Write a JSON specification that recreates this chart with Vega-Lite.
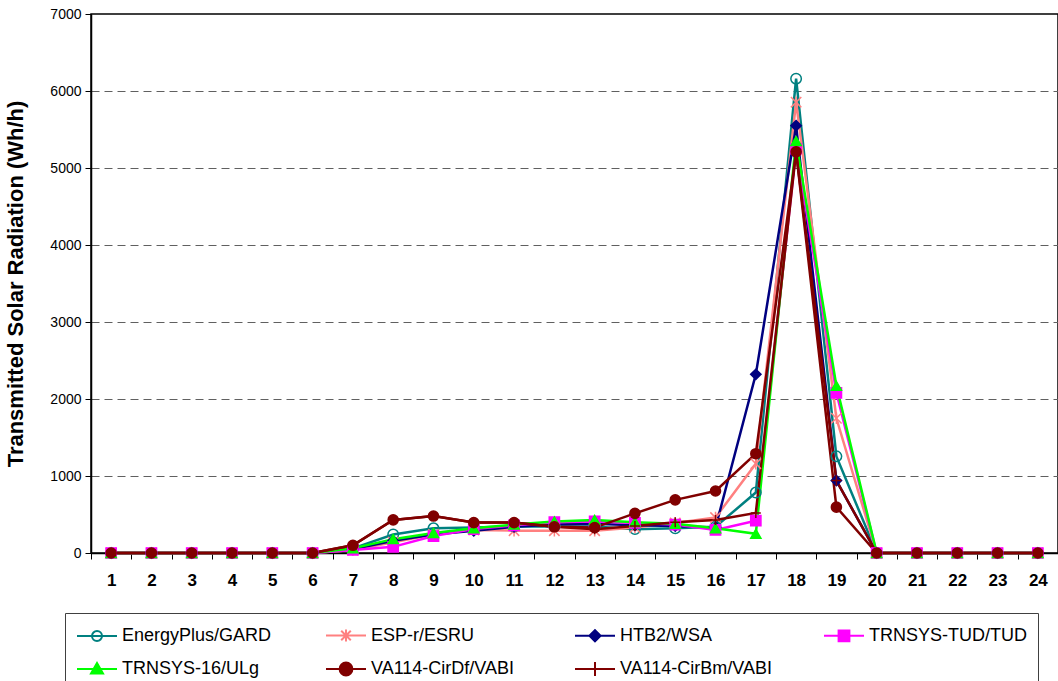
{
"$schema": "https://vega.github.io/schema/vega-lite/v6.json",
"width": 967, "height": 539,
"autosize": "none",
"padding": {"left": 91, "top": 14, "right": 0, "bottom": 128},
"background": "white",
"config": {"font": "Liberation Sans", "view": {"stroke": "black", "strokeWidth": 1.5}},
"data": {"values": [
{"series":"EnergyPlus/GARD","hour":1,"value":0},{"series":"EnergyPlus/GARD","hour":2,"value":0},{"series":"EnergyPlus/GARD","hour":3,"value":0},{"series":"EnergyPlus/GARD","hour":4,"value":0},{"series":"EnergyPlus/GARD","hour":5,"value":0},{"series":"EnergyPlus/GARD","hour":6,"value":0},{"series":"EnergyPlus/GARD","hour":7,"value":60},{"series":"EnergyPlus/GARD","hour":8,"value":240},{"series":"EnergyPlus/GARD","hour":9,"value":320},{"series":"EnergyPlus/GARD","hour":10,"value":330},{"series":"EnergyPlus/GARD","hour":11,"value":345},{"series":"EnergyPlus/GARD","hour":12,"value":345},{"series":"EnergyPlus/GARD","hour":13,"value":345},{"series":"EnergyPlus/GARD","hour":14,"value":310},{"series":"EnergyPlus/GARD","hour":15,"value":320},{"series":"EnergyPlus/GARD","hour":16,"value":340},{"series":"EnergyPlus/GARD","hour":17,"value":785},{"series":"EnergyPlus/GARD","hour":18,"value":6160},{"series":"EnergyPlus/GARD","hour":19,"value":1255},{"series":"EnergyPlus/GARD","hour":20,"value":0},{"series":"EnergyPlus/GARD","hour":21,"value":0},{"series":"EnergyPlus/GARD","hour":22,"value":0},{"series":"EnergyPlus/GARD","hour":23,"value":0},{"series":"EnergyPlus/GARD","hour":24,"value":0},
{"series":"ESP-r/ESRU","hour":1,"value":0},{"series":"ESP-r/ESRU","hour":2,"value":0},{"series":"ESP-r/ESRU","hour":3,"value":0},{"series":"ESP-r/ESRU","hour":4,"value":0},{"series":"ESP-r/ESRU","hour":5,"value":0},{"series":"ESP-r/ESRU","hour":6,"value":0},{"series":"ESP-r/ESRU","hour":7,"value":40},{"series":"ESP-r/ESRU","hour":8,"value":140},{"series":"ESP-r/ESRU","hour":9,"value":240},{"series":"ESP-r/ESRU","hour":10,"value":300},{"series":"ESP-r/ESRU","hour":11,"value":290},{"series":"ESP-r/ESRU","hour":12,"value":290},{"series":"ESP-r/ESRU","hour":13,"value":290},{"series":"ESP-r/ESRU","hour":14,"value":330},{"series":"ESP-r/ESRU","hour":15,"value":390},{"series":"ESP-r/ESRU","hour":16,"value":460},{"series":"ESP-r/ESRU","hour":17,"value":1160},{"series":"ESP-r/ESRU","hour":18,"value":5855},{"series":"ESP-r/ESRU","hour":19,"value":1750},{"series":"ESP-r/ESRU","hour":20,"value":0},{"series":"ESP-r/ESRU","hour":21,"value":0},{"series":"ESP-r/ESRU","hour":22,"value":0},{"series":"ESP-r/ESRU","hour":23,"value":0},{"series":"ESP-r/ESRU","hour":24,"value":0},
{"series":"HTB2/WSA","hour":1,"value":0},{"series":"HTB2/WSA","hour":2,"value":0},{"series":"HTB2/WSA","hour":3,"value":0},{"series":"HTB2/WSA","hour":4,"value":0},{"series":"HTB2/WSA","hour":5,"value":0},{"series":"HTB2/WSA","hour":6,"value":0},{"series":"HTB2/WSA","hour":7,"value":50},{"series":"HTB2/WSA","hour":8,"value":160},{"series":"HTB2/WSA","hour":9,"value":240},{"series":"HTB2/WSA","hour":10,"value":290},{"series":"HTB2/WSA","hour":11,"value":340},{"series":"HTB2/WSA","hour":12,"value":370},{"series":"HTB2/WSA","hour":13,"value":380},{"series":"HTB2/WSA","hour":14,"value":360},{"series":"HTB2/WSA","hour":15,"value":350},{"series":"HTB2/WSA","hour":16,"value":330},{"series":"HTB2/WSA","hour":17,"value":2320},{"series":"HTB2/WSA","hour":18,"value":5550},{"series":"HTB2/WSA","hour":19,"value":940},{"series":"HTB2/WSA","hour":20,"value":0},{"series":"HTB2/WSA","hour":21,"value":0},{"series":"HTB2/WSA","hour":22,"value":0},{"series":"HTB2/WSA","hour":23,"value":0},{"series":"HTB2/WSA","hour":24,"value":0},
{"series":"TRNSYS-TUD/TUD","hour":1,"value":0},{"series":"TRNSYS-TUD/TUD","hour":2,"value":0},{"series":"TRNSYS-TUD/TUD","hour":3,"value":0},{"series":"TRNSYS-TUD/TUD","hour":4,"value":0},{"series":"TRNSYS-TUD/TUD","hour":5,"value":0},{"series":"TRNSYS-TUD/TUD","hour":6,"value":0},{"series":"TRNSYS-TUD/TUD","hour":7,"value":40},{"series":"TRNSYS-TUD/TUD","hour":8,"value":80},{"series":"TRNSYS-TUD/TUD","hour":9,"value":220},{"series":"TRNSYS-TUD/TUD","hour":10,"value":310},{"series":"TRNSYS-TUD/TUD","hour":11,"value":360},{"series":"TRNSYS-TUD/TUD","hour":12,"value":400},{"series":"TRNSYS-TUD/TUD","hour":13,"value":410},{"series":"TRNSYS-TUD/TUD","hour":14,"value":390},{"series":"TRNSYS-TUD/TUD","hour":15,"value":370},{"series":"TRNSYS-TUD/TUD","hour":16,"value":300},{"series":"TRNSYS-TUD/TUD","hour":17,"value":420},{"series":"TRNSYS-TUD/TUD","hour":18,"value":5250},{"series":"TRNSYS-TUD/TUD","hour":19,"value":2080},{"series":"TRNSYS-TUD/TUD","hour":20,"value":0},{"series":"TRNSYS-TUD/TUD","hour":21,"value":0},{"series":"TRNSYS-TUD/TUD","hour":22,"value":0},{"series":"TRNSYS-TUD/TUD","hour":23,"value":0},{"series":"TRNSYS-TUD/TUD","hour":24,"value":0},
{"series":"TRNSYS-16/ULg","hour":1,"value":0},{"series":"TRNSYS-16/ULg","hour":2,"value":0},{"series":"TRNSYS-16/ULg","hour":3,"value":0},{"series":"TRNSYS-16/ULg","hour":4,"value":0},{"series":"TRNSYS-16/ULg","hour":5,"value":0},{"series":"TRNSYS-16/ULg","hour":6,"value":0},{"series":"TRNSYS-16/ULg","hour":7,"value":60},{"series":"TRNSYS-16/ULg","hour":8,"value":180},{"series":"TRNSYS-16/ULg","hour":9,"value":260},{"series":"TRNSYS-16/ULg","hour":10,"value":320},{"series":"TRNSYS-16/ULg","hour":11,"value":370},{"series":"TRNSYS-16/ULg","hour":12,"value":410},{"series":"TRNSYS-16/ULg","hour":13,"value":430},{"series":"TRNSYS-16/ULg","hour":14,"value":400},{"series":"TRNSYS-16/ULg","hour":15,"value":380},{"series":"TRNSYS-16/ULg","hour":16,"value":320},{"series":"TRNSYS-16/ULg","hour":17,"value":250},{"series":"TRNSYS-16/ULg","hour":18,"value":5350},{"series":"TRNSYS-16/ULg","hour":19,"value":2170},{"series":"TRNSYS-16/ULg","hour":20,"value":0},{"series":"TRNSYS-16/ULg","hour":21,"value":0},{"series":"TRNSYS-16/ULg","hour":22,"value":0},{"series":"TRNSYS-16/ULg","hour":23,"value":0},{"series":"TRNSYS-16/ULg","hour":24,"value":0},
{"series":"VA114-CirDf/VABI","hour":1,"value":0},{"series":"VA114-CirDf/VABI","hour":2,"value":0},{"series":"VA114-CirDf/VABI","hour":3,"value":0},{"series":"VA114-CirDf/VABI","hour":4,"value":0},{"series":"VA114-CirDf/VABI","hour":5,"value":0},{"series":"VA114-CirDf/VABI","hour":6,"value":0},{"series":"VA114-CirDf/VABI","hour":7,"value":100},{"series":"VA114-CirDf/VABI","hour":8,"value":430},{"series":"VA114-CirDf/VABI","hour":9,"value":480},{"series":"VA114-CirDf/VABI","hour":10,"value":395},{"series":"VA114-CirDf/VABI","hour":11,"value":395},{"series":"VA114-CirDf/VABI","hour":12,"value":340},{"series":"VA114-CirDf/VABI","hour":13,"value":330},{"series":"VA114-CirDf/VABI","hour":14,"value":515},{"series":"VA114-CirDf/VABI","hour":15,"value":690},{"series":"VA114-CirDf/VABI","hour":16,"value":805},{"series":"VA114-CirDf/VABI","hour":17,"value":1290},{"series":"VA114-CirDf/VABI","hour":18,"value":5210},{"series":"VA114-CirDf/VABI","hour":19,"value":596},{"series":"VA114-CirDf/VABI","hour":20,"value":0},{"series":"VA114-CirDf/VABI","hour":21,"value":0},{"series":"VA114-CirDf/VABI","hour":22,"value":0},{"series":"VA114-CirDf/VABI","hour":23,"value":0},{"series":"VA114-CirDf/VABI","hour":24,"value":0},
{"series":"VA114-CirBm/VABI","hour":1,"value":0},{"series":"VA114-CirBm/VABI","hour":2,"value":0},{"series":"VA114-CirBm/VABI","hour":3,"value":0},{"series":"VA114-CirBm/VABI","hour":4,"value":0},{"series":"VA114-CirBm/VABI","hour":5,"value":0},{"series":"VA114-CirBm/VABI","hour":6,"value":0},{"series":"VA114-CirBm/VABI","hour":7,"value":100},{"series":"VA114-CirBm/VABI","hour":8,"value":430},{"series":"VA114-CirBm/VABI","hour":9,"value":480},{"series":"VA114-CirBm/VABI","hour":10,"value":395},{"series":"VA114-CirBm/VABI","hour":11,"value":395},{"series":"VA114-CirBm/VABI","hour":12,"value":340},{"series":"VA114-CirBm/VABI","hour":13,"value":310},{"series":"VA114-CirBm/VABI","hour":14,"value":350},{"series":"VA114-CirBm/VABI","hour":15,"value":400},{"series":"VA114-CirBm/VABI","hour":16,"value":430},{"series":"VA114-CirBm/VABI","hour":17,"value":520},{"series":"VA114-CirBm/VABI","hour":18,"value":5210},{"series":"VA114-CirBm/VABI","hour":19,"value":940},{"series":"VA114-CirBm/VABI","hour":20,"value":0},{"series":"VA114-CirBm/VABI","hour":21,"value":0},{"series":"VA114-CirBm/VABI","hour":22,"value":0},{"series":"VA114-CirBm/VABI","hour":23,"value":0},{"series":"VA114-CirBm/VABI","hour":24,"value":0}
]},
"encoding": {
  "x": {"field": "hour", "type": "ordinal", "sort": "ascending",
        "scale": {"type": "band", "paddingInner": 0, "paddingOuter": 0},
        "axis": {"title": null, "labelAngle": 0, "labelFontSize": 17, "labelFontWeight": "bold", "labelColor": "black",
                 "tickBand": "extent", "tickSize": 6, "tickColor": "black", "domainColor": "black", "domainWidth": 1.5,
                 "labelPadding": 13, "grid": false}},
  "y": {"field": "value", "type": "quantitative",
        "scale": {"domain": [0, 7000], "nice": false},
        "axis": {"title": "Transmitted Solar Radiation (Wh/h)", "values": [0,1000,2000,3000,4000,5000,6000,7000], "format": "d",
                 "labelFontSize": 14, "labelColor": "black", "tickSize": 6, "tickColor": "black",
                 "domainColor": "black", "domainWidth": 1.5, "labelPadding": 4,
                 "grid": true, "gridDash": [8, 5], "gridColor": "#606060",
                 "gridOpacity": {"condition": {"test": "datum.value == 0 || datum.value == 7000", "value": 0}, "value": 1},
                 "titleFontSize": 22, "titleFontWeight": "bold", "titleColor": "black", "titlePadding": 22}}
},
"layer": [
  {"mark": {"type": "line"},
   "encoding": {
     "color": {"field": "series", "type": "nominal", "legend": null,
               "scale": {"domain": ["EnergyPlus/GARD","ESP-r/ESRU","HTB2/WSA","TRNSYS-TUD/TUD","TRNSYS-16/ULg","VA114-CirDf/VABI","VA114-CirBm/VABI"],
                         "range": ["#008080","#FF8080","#000080","#FF00FF","#00FF00","#800000","#800000"]}},
     "strokeWidth": {"field": "series", "type": "nominal", "legend": null,
               "scale": {"domain": ["EnergyPlus/GARD","ESP-r/ESRU","HTB2/WSA","TRNSYS-TUD/TUD","TRNSYS-16/ULg","VA114-CirDf/VABI","VA114-CirBm/VABI"],
                         "range": [2.5,2.5,2.5,2.5,2.5,4.5,3]}}
   }},
  {"mark": {"type": "point", "strokeWidth": 1.5, "opacity": 1},
   "encoding": {
     "shape": {"field": "series", "type": "nominal", "legend": null,
               "scale": {"domain": ["EnergyPlus/GARD","ESP-r/ESRU","HTB2/WSA","TRNSYS-TUD/TUD","TRNSYS-16/ULg","VA114-CirDf/VABI","VA114-CirBm/VABI"],
                         "range": ["circle","M-1,-1L1,1M-1,1L1,-1M0,-1.1V1.1","diamond","square","triangle-up","circle","M-1,0H1M0,-1V1"]}},
     "size": {"field": "series", "type": "nominal", "legend": null,
               "scale": {"domain": ["EnergyPlus/GARD","ESP-r/ESRU","HTB2/WSA","TRNSYS-TUD/TUD","TRNSYS-16/ULg","VA114-CirDf/VABI","VA114-CirBm/VABI"],
                         "range": [110,100,170,130,190,210,230]}},
     "stroke": {"field": "series", "type": "nominal", "legend": null,
               "scale": {"domain": ["EnergyPlus/GARD","ESP-r/ESRU","HTB2/WSA","TRNSYS-TUD/TUD","TRNSYS-16/ULg","VA114-CirDf/VABI","VA114-CirBm/VABI"],
                         "range": ["#008080","#FF8080","#000080","#FF00FF","#00FF00","#800000","#800000"]}},
     "fill": {"field": "series", "type": "nominal", "legend": null,
               "scale": {"domain": ["EnergyPlus/GARD","ESP-r/ESRU","HTB2/WSA","TRNSYS-TUD/TUD","TRNSYS-16/ULg","VA114-CirDf/VABI","VA114-CirBm/VABI"],
                         "range": ["transparent","transparent","#000080","#FF00FF","#00FF00","#800000","transparent"]}}
   }},
  {"mark": {"type": "point", "opacity": 0},
   "encoding": {
     "shape": {"field": "series", "type": "nominal",
               "scale": {"domain": ["EnergyPlus/GARD","ESP-r/ESRU","HTB2/WSA","TRNSYS-TUD/TUD","TRNSYS-16/ULg","VA114-CirDf/VABI","VA114-CirBm/VABI"],
                         "range": [
                           "M-1,0H3M1.5,0C1.5,0.276 1.276,0.5 1,0.5C0.724,0.5 0.5,0.276 0.5,0C0.5,-0.276 0.724,-0.5 1,-0.5C1.276,-0.5 1.5,-0.276 1.5,0Z",
                           "M-1,0H3M0.52,-0.48L1.48,0.48M0.52,0.48L1.48,-0.48M1,-0.6V0.6",
                           "M-1,0H3M0.44,0L1,-0.56L1.56,0L1,0.56Z",
                           "M-1,0H3M0.46,-0.54H1.54V0.54H0.46Z",
                           "M-1,0H3M1,-0.6L1.6,0.44H0.4Z",
                           "M-1,0H3M1.64,0C1.64,0.353 1.353,0.64 1,0.64C0.647,0.64 0.36,0.353 0.36,0C0.36,-0.353 0.647,-0.64 1,-0.64C1.353,-0.64 1.64,-0.353 1.64,0Z",
                           "M-1,0H3M1,-0.7V0.7"]},
               "legend": {"title": null, "orient": "none", "direction": "horizontal", "legendX": -26, "legendY": 599, "columns": 4, "symbolSize": 400, "symbolStrokeWidth": 2, "symbolOpacity": 1, "labelFontSize": 18, "labelColor": "black", "labelOffset": 24, "labelLimit": 300, "columnPadding": 42, "rowPadding": 12, "padding": 11, "strokeColor": "#404040", "fillColor": "white", "gridAlign": "all"}},
     "stroke": {"field": "series", "type": "nominal",
               "scale": {"domain": ["EnergyPlus/GARD","ESP-r/ESRU","HTB2/WSA","TRNSYS-TUD/TUD","TRNSYS-16/ULg","VA114-CirDf/VABI","VA114-CirBm/VABI"],
                         "range": ["#008080","#FF8080","#000080","#FF00FF","#00FF00","#800000","#800000"]},
               "legend": {"title": null, "orient": "none", "direction": "horizontal", "legendX": -26, "legendY": 599, "columns": 4, "symbolSize": 400, "symbolStrokeWidth": 2, "symbolOpacity": 1, "labelFontSize": 18, "labelColor": "black", "labelOffset": 24, "labelLimit": 300, "columnPadding": 42, "rowPadding": 12, "padding": 11, "strokeColor": "#404040", "fillColor": "white", "gridAlign": "all"}},
     "fill": {"field": "series", "type": "nominal",
               "scale": {"domain": ["EnergyPlus/GARD","ESP-r/ESRU","HTB2/WSA","TRNSYS-TUD/TUD","TRNSYS-16/ULg","VA114-CirDf/VABI","VA114-CirBm/VABI"],
                         "range": ["transparent","transparent","#000080","#FF00FF","#00FF00","#800000","transparent"]},
               "legend": {"title": null, "orient": "none", "direction": "horizontal", "legendX": -26, "legendY": 599, "columns": 4, "symbolSize": 400, "symbolStrokeWidth": 2, "symbolOpacity": 1, "labelFontSize": 18, "labelColor": "black", "labelOffset": 24, "labelLimit": 300, "columnPadding": 42, "rowPadding": 12, "padding": 11, "strokeColor": "#404040", "fillColor": "white", "gridAlign": "all"}}
   }}
],
"resolve": {"scale": {"shape": "independent", "fill": "independent", "stroke": "independent", "size": "independent", "color": "independent", "strokeWidth": "independent"}}
}
